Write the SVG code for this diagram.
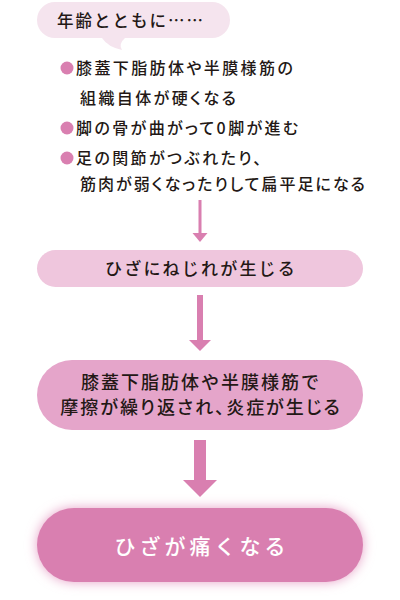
<svg xmlns="http://www.w3.org/2000/svg" width="400" height="600" viewBox="0 0 400 600">
<defs>
<style>
text{font-family:"Noto Sans CJK JP","Noto Sans CJK SC",sans-serif;fill:#231815;font-weight:500}
.b{font-size:16px;letter-spacing:2.4px;font-feature-settings:"palt"}
.c{text-anchor:middle}
.arr{fill:#d97fb0}
</style>
<filter id="glow" x="-20%" y="-60%" width="140%" height="220%">
<feGaussianBlur stdDeviation="6"/>
</filter>
</defs>
<rect width="400" height="600" fill="#fff"/>
<g id="bubble">
<path d="M55,2 H212 A18,18 0 0 1 212,38 H125 Q118,44 122,50 Q108,47 102,38 H55 A18,18 0 0 1 55,2 Z" fill="#f5e4ee"/>
<text x="57" y="27" font-size="16.5" letter-spacing="2">年齢とともに……</text>
</g>
<g id="causes">
<circle cx="67" cy="68" r="6.5" fill="#d97fb0"/>
<text class="b" x="76" y="74">膝蓋下脂肪体や半膜様筋の</text>
<text class="b" x="80" y="104">組織自体が硬くなる</text>
<circle cx="67" cy="128" r="6.5" fill="#d97fb0"/>
<text class="b" x="76" y="134">脚の骨が曲がって0脚が進む</text>
<circle cx="67" cy="158" r="6.5" fill="#d97fb0"/>
<text class="b" x="76" y="164">足の関節がつぶれたり、</text>
<text class="b" x="80" y="190" style="letter-spacing:2px">筋肉が弱くなったりして扁平足になる</text>
</g>
<g id="connectors">
<rect class="arr" x="198.5" y="200" width="3" height="34"/>
<path class="arr" d="M192.5,233 H207.5 L200,242 Z"/>
<rect class="arr" x="197" y="295" width="6" height="46"/>
<path class="arr" d="M189,340 H211 L200,351 Z"/>
<rect class="arr" x="194" y="440" width="12" height="41"/>
<path class="arr" d="M183,480 H217 L200,497 Z"/>
</g>
<g id="twist">
<rect x="37" y="250" width="326" height="37" rx="18.5" fill="#efc6dd"/>
<text class="c" x="201" y="275" font-size="17" letter-spacing="2.2">ひざにねじれが生じる</text>
</g>
<g id="inflammation">
<rect x="37" y="360" width="326" height="70" rx="35" fill="#e5a5ca"/>
<text class="c" x="201" y="389" font-size="18" letter-spacing="2">膝蓋下脂肪体や半膜様筋で</text>
<text class="c" x="201" y="414" font-size="18" letter-spacing="2" style="font-feature-settings:'palt'">摩擦が繰り返され、炎症が生じる</text>
</g>
<g id="pain">
<rect x="37" y="508" width="326" height="74" rx="37" fill="#e6a0c6" filter="url(#glow)"/>
<rect x="37" y="508" width="326" height="74" rx="37" fill="#d97fb0"/>
<text class="c" x="202" y="554" font-size="21" letter-spacing="4" style="fill:#fff">ひざが痛くなる</text>
</g>
</svg>
